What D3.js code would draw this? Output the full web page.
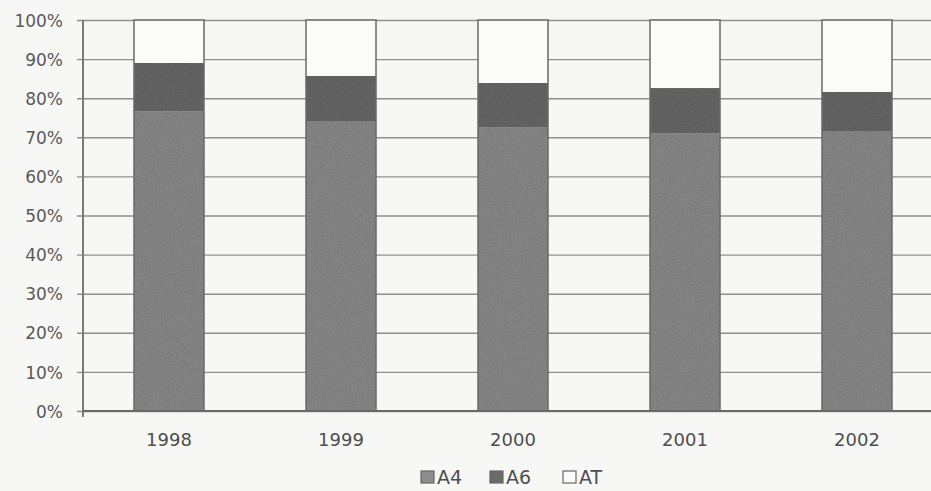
<!DOCTYPE html>
<html>
<head>
<meta charset="utf-8">
<script src="https://cdn.jsdelivr.net/npm/d3@7"></script>
<style>
  html, body { margin: 0; padding: 0; background: #f7f7f5; }
  svg { display: block; }
  text { font-family: "DejaVu Sans", "Liberation Sans", sans-serif; fill: #555; }
</style>
</head>
<body>
<svg id="chart" width="931" height="491"></svg>
<script>
// Share of milk recording method by year (percent of total)
const years = ["1998", "1999", "2000", "2001", "2002"];
const seriesNames = ["A4", "A6", "AT"];
const a4 = [76.6, 74.0, 72.6, 71.0, 71.6];
const a6 = [12.4, 11.7, 11.3, 11.6, 10.0];
const at = [11.0, 14.3, 16.1, 17.4, 18.4];
const yTicks = [0, 10, 20, 30, 40, 50, 60, 70, 80, 90, 100];

const colors = { A4: "#8d8d8d", A6: "#6a6a6a", AT: "#fbfbf9" };

const rows = years.map((y, i) => ({ year: y, A4: a4[i], A6: a6[i], AT: at[i] }));
const stacked = d3.stack().keys(seriesNames)(rows);

const svg = d3.select("#chart");
const plotLeft = 83, plotRight = 943, plotTop = 20, plotBottom = 411;

const x = d3.scaleBand().domain(years).range([plotLeft, plotRight])
  .paddingInner(0.593).paddingOuter(0.2965);
const y = d3.scaleLinear().domain([0, 100]).range([plotBottom, plotTop]);

// grain filter for the printed bar fills
const defs = svg.append("defs");
const f = defs.append("filter").attr("id", "grain").attr("x", 0).attr("y", 0).attr("width", 1).attr("height", 1);
f.append("feTurbulence").attr("type", "fractalNoise").attr("baseFrequency", 0.9).attr("numOctaves", 2).attr("seed", 4).attr("result", "noise");
f.append("feColorMatrix").attr("in", "noise").attr("type", "matrix")
  .attr("values", "0 0 0 0 0  0 0 0 0 0  0 0 0 0 0  0 0 0 0.35 0").attr("result", "spk");
f.append("feComposite").attr("in", "spk").attr("in2", "SourceGraphic").attr("operator", "in").attr("result", "spk2");
f.append("feMerge").selectAll("feMergeNode").data(["SourceGraphic", "spk2"]).join("feMergeNode").attr("in", d => d);

// horizontal gridlines + y axis labels
const yAxis = d3.axisLeft(y).tickValues(yTicks).tickFormat(d => d + "%")
  .tickSize(-(plotRight - plotLeft)).tickSizeOuter(0).tickPadding(20);
const gy = svg.append("g").attr("transform", `translate(${plotLeft},0)`).call(yAxis);
gy.select(".domain").remove();
gy.selectAll(".tick line").attr("stroke", "#8e8e8e").attr("stroke-width", 1.4).attr("x1", -6);
gy.selectAll(".tick text").attr("font-size", 17).style("fill", "#5a5a5a").attr("dy", "0.36em");

// vertical axis line
svg.append("line").attr("x1", plotLeft).attr("x2", plotLeft).attr("y1", plotTop).attr("y2", plotBottom + 6)
  .attr("stroke", "#7a7a7a").attr("stroke-width", 2);

// stacked bars
const g = svg.append("g");
stacked.forEach(layer => {
  g.append("g").selectAll("rect").data(layer).join("rect")
    .attr("x", d => x(d.data.year))
    .attr("width", x.bandwidth())
    .attr("y", d => y(d[1]))
    .attr("height", d => y(d[0]) - y(d[1]))
    .attr("fill", colors[layer.key])
    .attr("filter", layer.key === "AT" ? null : "url(#grain)");
});
// bar outlines
g.append("g").selectAll("rect").data(rows).join("rect")
  .attr("x", d => x(d.year)).attr("width", x.bandwidth())
  .attr("y", y(100)).attr("height", y(0) - y(100))
  .attr("fill", "none").attr("stroke", "#6a6a6a").attr("stroke-width", 1.5);

// baseline
svg.append("line").attr("x1", plotLeft).attr("x2", 931).attr("y1", plotBottom).attr("y2", plotBottom)
  .attr("stroke", "#6a6a6a").attr("stroke-width", 2);

// category labels
const xAxis = d3.axisBottom(x).tickSize(0).tickPadding(22);
const gx = svg.append("g").attr("transform", `translate(0,${plotBottom})`).call(xAxis);
gx.select(".domain").remove();
gx.selectAll(".tick text").attr("font-size", 18).style("fill", "#4e4e4e");

// legend
const legendItems = [
  { key: "A4", x: 421 }, { key: "A6", x: 490 }, { key: "AT", x: 563 }
];
const lg = svg.append("g").attr("transform", "translate(0,477)");
legendItems.forEach(it => {
  lg.append("rect").attr("x", it.x).attr("y", -6).attr("width", 13).attr("height", 12)
    .attr("fill", colors[it.key]).attr("stroke", "#666").attr("stroke-width", 1.2);
  lg.append("text").attr("x", it.x + 16).attr("y", 0).attr("dy", "0.36em")
    .attr("font-size", 19).style("fill", "#4e4e4e").text(it.key);
});
</script>
</body>
</html>
